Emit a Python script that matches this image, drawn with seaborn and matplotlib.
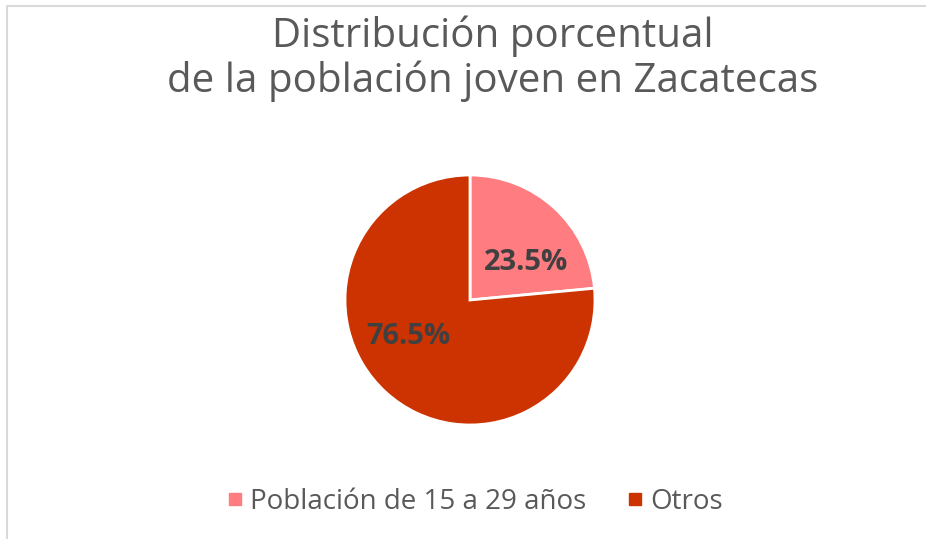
import matplotlib
matplotlib.use("Agg")
import matplotlib.pyplot as plt
from matplotlib.lines import Line2D
import seaborn as sns

# data
categorias = ["Población de 15 a 29 años", "Otros"]
porcentajes = [23.5, 76.5]
colores = ["#FF7C80", "#CC3300"]
titulo = "Distribución porcentual\nde la población joven en Zacatecas"

sns.set_theme(style="white")
plt.rcParams["font.family"] = ["Open Sans", "DejaVu Sans"]

fig = plt.figure(figsize=(9.26, 5.39), dpi=100)
fig.patch.set_facecolor("white")

# pie axes: centre ~ (470, 300) px, radius ~125 px
ax = fig.add_axes([345 / 926, (539 - 425) / 539, 250 / 926, 250 / 539])

wedges, texts, autotexts = ax.pie(
    porcentajes,
    colors=colores,
    startangle=90,
    counterclock=False,
    autopct="%.1f%%",
    pctdistance=0.55,
    wedgeprops={"edgecolor": "white", "linewidth": 2},
    textprops={"fontsize": 21, "fontweight": "bold", "color": "#404040"},
)
ax.set_xlim(-1.0, 1.0)
ax.set_ylim(-1.0, 1.0)
ax.set_aspect("equal")
ax.axis("off")

# label positions as Excel places them
autotexts[0].set_position((0.45, 0.30))
autotexts[1].set_position((-0.49, -0.29))

# title
fig.text(0.532, 0.891, titulo, ha="center", va="center",
         fontsize=29, color="#595959", linespacing=1.1)

# legend
handles = [Line2D([], [], marker="s", linestyle="", markersize=9,
                  markerfacecolor=c, markeredgecolor=c) for c in colores]
fig.legend(handles, categorias, loc="center", ncol=2,
           bbox_to_anchor=(0.512, 0.069), frameon=False,
           fontsize=20, labelcolor="#595959", handletextpad=0.2,
           columnspacing=1.4, handlelength=0.7)

# chart frame (only top and left visible in the crop)
fig.add_artist(Line2D([7 / 926, 7 / 926, 1.0], [0.0, 1 - 6 / 539, 1 - 6 / 539],
                      transform=fig.transFigure, color="#D9D9D9", linewidth=1.5))

fig.savefig("out.png", dpi=100, facecolor="white")
